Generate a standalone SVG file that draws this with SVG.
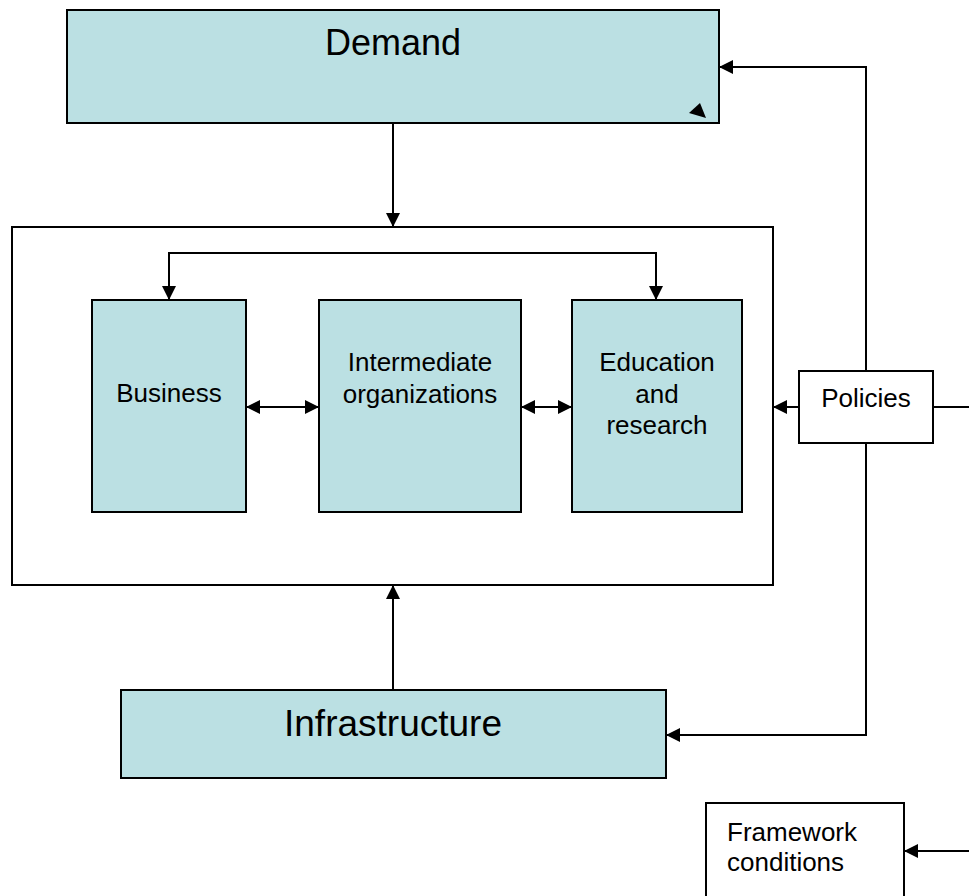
<svg xmlns="http://www.w3.org/2000/svg" width="969" height="896" viewBox="0 0 969 896">
  <defs>
    <marker id="ah" viewBox="0 0 10 10" refX="10" refY="5" markerWidth="14" markerHeight="14" markerUnits="userSpaceOnUse" orient="auto-start-reverse">
      <path d="M0,0 L10,5 L0,10 Z" fill="#000"/>
    </marker>
    <style>
      .box { fill: #bbe0e3; stroke: #000; stroke-width: 2; }
      .plain { fill: #fff; stroke: #000; stroke-width: 2; }
      .line { fill: none; stroke: #000; stroke-width: 2; }
      text { font-family: "Liberation Sans", Arial, sans-serif; fill: #000; }
      .mid { font-size: 26px; text-anchor: middle; }
    </style>
  </defs>
  <rect width="969" height="896" fill="#fff"/>

  <g id="system">
    <rect class="plain" x="12" y="227" width="761" height="358"/>
  </g>

  <g id="demand">
    <rect class="box" x="67" y="10" width="652" height="113"/>
    <text x="393" y="55" font-size="36" text-anchor="middle">Demand</text>
    <polygon points="700,103 689,113 706,118" fill="#000"/>
  </g>

  <g id="business">
    <rect class="box" x="92" y="300" width="154" height="212"/>
    <text class="mid" x="169" y="402">Business</text>
  </g>

  <g id="intermediate">
    <rect class="box" x="319" y="300" width="202" height="212"/>
    <text class="mid" x="420" y="371">Intermediate</text>
    <text class="mid" x="420" y="403">organizations</text>
  </g>

  <g id="education">
    <rect class="box" x="572" y="300" width="170" height="212"/>
    <text class="mid" x="657" y="371">Education</text>
    <text class="mid" x="657" y="403">and</text>
    <text class="mid" x="657" y="434">research</text>
  </g>

  <g id="policies">
    <rect class="plain" x="799" y="371" width="134" height="72"/>
    <text class="mid" x="866" y="407">Policies</text>
  </g>

  <g id="infrastructure">
    <rect class="box" x="121" y="690" width="545" height="88"/>
    <text x="393" y="736" font-size="37" text-anchor="middle">Infrastructure</text>
  </g>

  <g id="framework">
    <rect class="plain" x="706" y="803" width="198" height="100"/>
    <text x="727" y="841" font-size="26">Framework</text>
    <text x="727" y="871" font-size="26">conditions</text>
  </g>

  <g id="connectors">
    <line class="line" x1="393" y1="123" x2="393" y2="227" marker-end="url(#ah)"/>
    <line class="line" x1="393" y1="690" x2="393" y2="585" marker-end="url(#ah)"/>
    <path class="line" d="M169,300 V253 H656 V300" marker-start="url(#ah)" marker-end="url(#ah)"/>
    <line class="line" x1="246" y1="407" x2="319" y2="407" marker-start="url(#ah)" marker-end="url(#ah)"/>
    <line class="line" x1="521" y1="407" x2="572" y2="407" marker-start="url(#ah)" marker-end="url(#ah)"/>
    <line class="line" x1="799" y1="407" x2="773" y2="407" marker-end="url(#ah)"/>
    <line class="line" x1="933" y1="407" x2="969" y2="407"/>
    <path class="line" d="M866,371 V67 H719" marker-end="url(#ah)"/>
    <path class="line" d="M866,443 V735 H666" marker-end="url(#ah)"/>
    <line class="line" x1="969" y1="851" x2="904" y2="851" marker-end="url(#ah)"/>
  </g>
</svg>
